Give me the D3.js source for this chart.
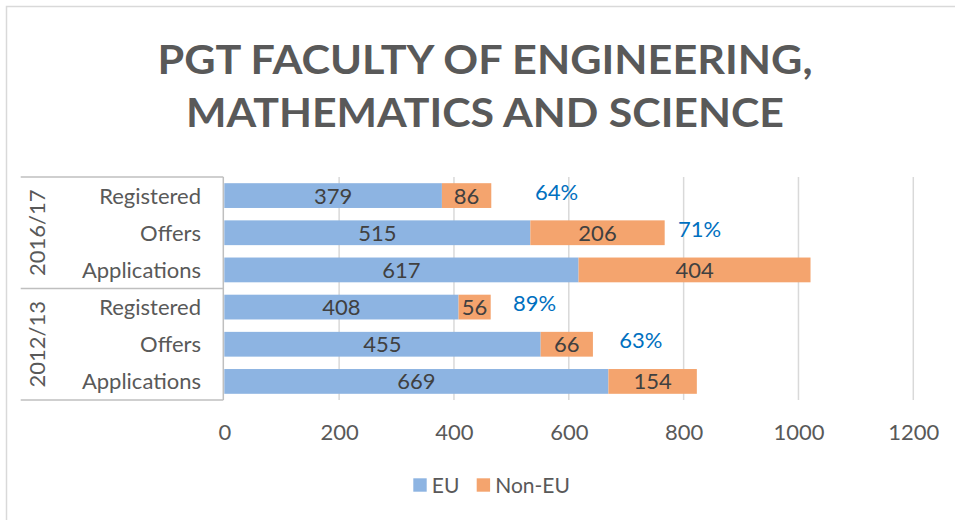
<!DOCTYPE html>
<html>
<head>
<meta charset="utf-8">
<script src="https://cdn.jsdelivr.net/npm/d3@7"></script>
<style>
  body { margin: 0; background: #fff; }
  text { font-family: Lato, "Open Sans", sans-serif; }
</style>
</head>
<body>
<div id="vis"></div>
<script>
// chart values
const ROWS = ["Registered", "Offers", "Applications", "Registered", "Offers", "Applications"];
const YEARS = ["2016/17", "2012/13"];
const ROW_YEAR = ["2016/17", "2016/17", "2016/17", "2012/13", "2012/13", "2012/13"];
const EU_BAR = [379, 533, 617, 408, 551, 669];
const NON_EU_BAR = [86, 234, 404, 56, 91, 154];
const EU_LABEL = ["379", "515", "617", "408", "455", "669"];
const NON_EU_LABEL = ["86", "206", "404", "56", "66", "154"];
const PCT_LABEL = ["64%", "71%", "", "89%", "63%", ""];
const X_TICKS = [0, 200, 400, 600, 800, 1000, 1200];
const SERIES = ["EU", "Non-EU"];

const FRAME_WIDTH = 955;
const FRAME_HEIGHT = 520;
const PLOT = {left: 224.3, right: 913.3, top: 177, bottom: 400};
const COLORS = {"EU": "#8db4e2", "Non-EU": "#f4a46e"};
const FONT = "22px";

// left edge of each percentage note, in axis units
const PCT_X = [541, 790, 0, 503, 688];

const FRAME = d3.select("#vis")
                .append("svg")
                    .attr("width", FRAME_WIDTH)
                    .attr("height", FRAME_HEIGHT);

// chart border
FRAME.append("rect")
    .attr("x", 6.5).attr("y", 6.5)
    .attr("width", 1000).attr("height", 1000)
    .attr("fill", "none")
    .attr("stroke", "#d9d9d9")
    .attr("stroke-width", 1.5);

// title
const TITLE = ["PGT FACULTY OF ENGINEERING,", "MATHEMATICS AND SCIENCE"];
const TITLE_W = [655, 598];
FRAME.selectAll(".title")
    .data(TITLE)
    .enter()
    .append("text")
        .attr("class", "title")
        .attr("x", 485)
        .attr("y", (d, i) => 73.5 + i * 53.3)
        .attr("text-anchor", "middle")
        .attr("font-size", "39.5px")
        .attr("font-weight", "bold")
        .attr("fill", "#595959")
        .attr("textLength", (d, i) => TITLE_W[i])
        .attr("lengthAdjust", "spacingAndGlyphs")
        .text(d => d);

const X_SCALE = d3.scaleLinear()
                    .domain([0, 1200])
                    .range([PLOT.left, PLOT.right]);

const Y_SCALE = d3.scaleBand()
                    .domain(d3.range(ROWS.length))
                    .range([PLOT.top, PLOT.bottom])
                    .paddingInner(1 / 3)
                    .paddingOuter(1 / 6);

// gridlines
FRAME.selectAll(".grid")
    .data(X_TICKS.slice(1))
    .enter()
    .append("line")
        .attr("x1", d => X_SCALE(d)).attr("x2", d => X_SCALE(d))
        .attr("y1", PLOT.top).attr("y2", PLOT.bottom)
        .attr("stroke", "#d9d9d9")
        .attr("stroke-width", 1.5);

// x axis labels
const X_AXIS = FRAME.append("g")
    .attr("transform", "translate(0," + PLOT.bottom + ")")
    .call(d3.axisBottom(X_SCALE).tickValues(X_TICKS).tickFormat(d3.format("d")).tickSize(0).tickPadding(0));
X_AXIS.select(".domain").remove();
X_AXIS.selectAll("text")
    .attr("dy", 0)
    .attr("y", 40)
    .attr("font-size", FONT)
    .attr("font-family", "Lato, sans-serif")
    .attr("fill", "#595959");

// stacked bars
const rowsData = ROWS.map((r, i) => ({i: i, eu: EU_BAR[i], non: NON_EU_BAR[i]}));

FRAME.selectAll(".eu")
    .data(rowsData)
    .enter()
    .append("rect")
        .attr("class", "eu")
        .attr("x", X_SCALE(0))
        .attr("y", d => Y_SCALE(d.i))
        .attr("width", d => X_SCALE(d.eu) - X_SCALE(0))
        .attr("height", Y_SCALE.bandwidth())
        .attr("fill", COLORS["EU"]);

FRAME.selectAll(".non")
    .data(rowsData)
    .enter()
    .append("rect")
        .attr("class", "non")
        .attr("x", d => X_SCALE(d.eu))
        .attr("y", d => Y_SCALE(d.i))
        .attr("width", d => X_SCALE(d.eu + d.non) - X_SCALE(d.eu))
        .attr("height", Y_SCALE.bandwidth())
        .attr("fill", COLORS["Non-EU"]);

// segment labels
const mid = d => Y_SCALE(d.i) + Y_SCALE.bandwidth() / 2;

FRAME.selectAll(".eu-label")
    .data(rowsData)
    .enter()
    .append("text")
        .attr("x", d => X_SCALE(d.eu / 2))
        .attr("y", d => mid(d) + 8)
        .attr("text-anchor", "middle")
        .attr("font-size", FONT)
        .attr("fill", "#404040")
        .text(d => EU_LABEL[d.i]);

FRAME.selectAll(".non-label")
    .data(rowsData)
    .enter()
    .append("text")
        .attr("x", d => X_SCALE(d.eu + d.non / 2))
        .attr("y", d => mid(d) + 8)
        .attr("text-anchor", "middle")
        .attr("font-size", FONT)
        .attr("fill", "#404040")
        .text(d => NON_EU_LABEL[d.i]);

// percentage notes
FRAME.selectAll(".pct")
    .data(rowsData.filter(d => PCT_LABEL[d.i] !== ""))
    .enter()
    .append("text")
        .attr("x", d => X_SCALE(PCT_X[d.i]))
        .attr("y", d => mid(d) + 4)
        .attr("font-size", FONT)
        .attr("fill", "#0070c0")
        .text(d => PCT_LABEL[d.i]);

// category axis (two levels)
const BOX_LEFT = 20.7;
FRAME.append("line")
    .attr("x1", PLOT.left - 1).attr("x2", PLOT.left - 1)
    .attr("y1", PLOT.top).attr("y2", PLOT.bottom)
    .attr("stroke", "#bfbfbf").attr("stroke-width", 1.5);

const groupEdges = [PLOT.top].concat(YEARS.map((y, k) => {
    const last = ROW_YEAR.lastIndexOf(y);
    return k === YEARS.length - 1 ? PLOT.bottom : (Y_SCALE(last) + Y_SCALE(last + 1) + Y_SCALE.bandwidth()) / 2;
}));

FRAME.selectAll(".sep")
    .data(groupEdges)
    .enter()
    .append("line")
        .attr("x1", BOX_LEFT).attr("x2", PLOT.left - 1)
        .attr("y1", d => d).attr("y2", d => d)
        .attr("stroke", "#bfbfbf").attr("stroke-width", 1.5);

FRAME.selectAll(".cat")
    .data(rowsData)
    .enter()
    .append("text")
        .attr("x", 201)
        .attr("y", d => mid(d) + 8)
        .attr("text-anchor", "end")
        .attr("font-size", FONT)
        .attr("fill", "#595959")
        .text(d => ROWS[d.i]);

FRAME.selectAll(".year")
    .data(YEARS)
    .enter()
    .append("text")
        .attr("transform", (d, k) => "translate(44.5," + ((groupEdges[k] + groupEdges[k + 1]) / 2) + ") rotate(-90)")
        .attr("text-anchor", "middle")
        .attr("font-size", FONT)
        .attr("fill", "#595959")
        .text(d => d);

// legend
const LEGEND = FRAME.append("g").attr("transform", "translate(413.3,478.3)");
const legendX = [0, 63.4];
SERIES.forEach((s, k) => {
    LEGEND.append("rect")
        .attr("x", legendX[k]).attr("y", 0)
        .attr("width", 13.4).attr("height", 13.4)
        .attr("fill", COLORS[s]);
    LEGEND.append("text")
        .attr("x", legendX[k] + 18.5)
        .attr("y", 14.5)
        .attr("font-size", "21px")
        .attr("fill", "#595959")
        .text(s);
});
</script>
</body>
</html>
